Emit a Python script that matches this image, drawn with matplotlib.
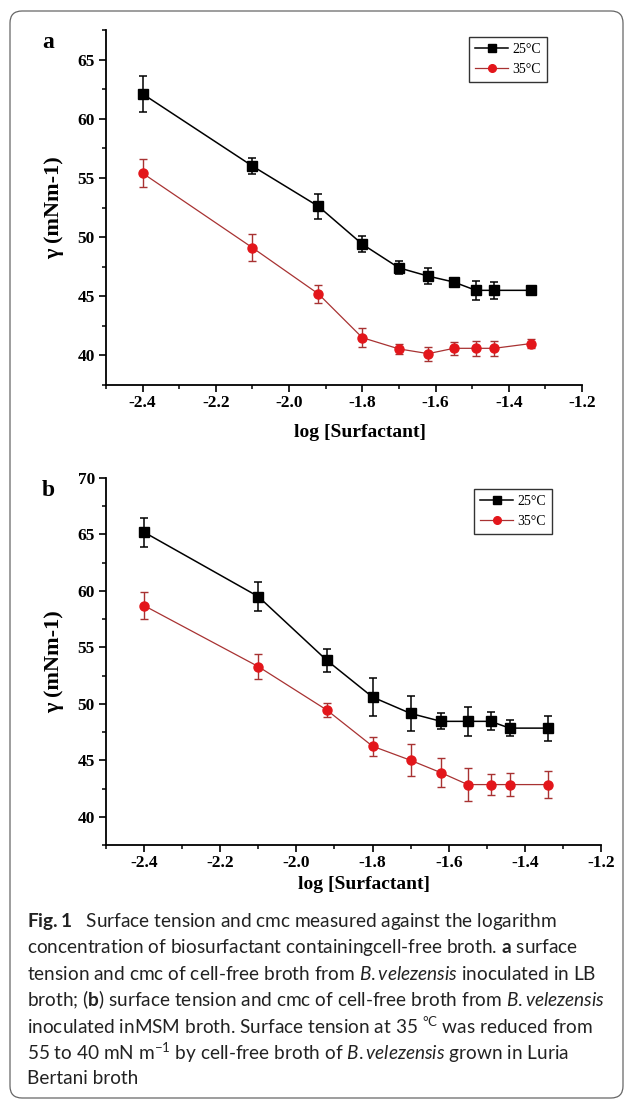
import matplotlib
matplotlib.use("Agg")
import matplotlib.pyplot as plt
from matplotlib.lines import Line2D
from matplotlib.patches import FancyBboxPatch
from matplotlib.ticker import MultipleLocator, FormatStrFormatter

plt.rcParams['font.family'] = ['Liberation Serif', 'DejaVu Serif']
plt.rcParams['mathtext.fontset'] = 'custom'
plt.rcParams['mathtext.rm'] = 'Lato'
plt.rcParams['mathtext.it'] = 'Lato:italic'
plt.rcParams['mathtext.bf'] = 'Lato:bold'

# log [Surfactant] values shared by both panels
log_conc = [-2.4, -2.1, -1.92, -1.8, -1.7, -1.62, -1.55, -1.49, -1.44, -1.34]

# panel a (LB broth)
a_25 = [62.1, 56.0, 52.6, 49.4, 47.4, 46.7, 46.2, 45.5, 45.5, 45.5]
a_25_err = [1.5, 0.7, 1.05, 0.65, 0.55, 0.7, 0.2, 0.8, 0.7, 0.35]
a_35 = [55.4, 49.1, 45.2, 41.5, 40.55, 40.15, 40.6, 40.6, 40.6, 41.0]
a_35_err = [1.2, 1.15, 0.75, 0.8, 0.4, 0.6, 0.55, 0.65, 0.65, 0.4]

# panel b (MSM broth)
b_25 = [65.2, 59.5, 53.85, 50.6, 49.15, 48.45, 48.45, 48.45, 47.85, 47.85]
b_25_err = [1.3, 1.25, 1.05, 1.65, 1.55, 0.7, 1.3, 0.8, 0.7, 1.1]
b_35 = [58.7, 53.3, 49.45, 46.25, 45.0, 43.9, 42.85, 42.85, 42.85, 42.85]
b_35_err = [1.2, 1.1, 0.6, 0.85, 1.4, 1.3, 1.45, 0.9, 1.05, 1.2]

labels = ['25°C', '35°C']

# mathtext puts a small space after '.', which gives "B. velezensis"
caption = [
    r"$\mathbf{Fig.1}$   Surface tension and cmc measured against the logarithm",
    r"concentration of biosurfactant containingcell-free broth. $\mathbf{a}$ surface",
    r"tension and cmc of cell-free broth from $\mathit{B.velezensis}$ inoculated in LB",
    r"broth; ($\mathbf{b}$) surface tension and cmc of cell-free broth from $\mathit{B.velezensis}$",
    r"inoculated inMSM broth. Surface tension at 35 $^{\mathrm{°C}}$ was reduced from",
    r"55 to 40 mN m$^{-1}$ by cell-free broth of $\mathit{B.velezensis}$ grown in Luria",
    r"Bertani broth",
]

BLACK = 'black'
RED_LINE = '#a83232'
RED_MARK = '#e3161b'

fig = plt.figure(figsize=(6.3, 11.03), dpi=100)

# page frame + caption, drawn in pixel coordinates
bg = fig.add_axes([0, 0, 1, 1])
bg.set_xlim(0, 630)
bg.set_ylim(1103, 0)
bg.axis('off')
bg.add_patch(FancyBboxPatch((10, 11), 613, 1087,
                            boxstyle="round,pad=0,rounding_size=12",
                            fc='none', ec='#666666', lw=0.9))
for i, line in enumerate(caption):
    bg.text(27, 921 + i * 26.3, line, family='Lato', fontsize=13.7,
            va='center', ha='left', color='#222222')


def panel(rect, y25, e25, y35, e35, ylim, letter, leg_anchor, xlab_pos):
    ax = fig.add_axes(rect)
    ax.errorbar(log_conc, y25, yerr=e25, color=BLACK, lw=1.1,
                marker='s', ms=6.5, capsize=3, elinewidth=1.1, capthick=1.1)
    ax.errorbar(log_conc, y35, yerr=e35, color=RED_LINE, lw=0.9,
                marker='o', ms=6.5, mfc=RED_MARK, mec=RED_MARK,
                ecolor=RED_LINE, capsize=3, elinewidth=1.0, capthick=1.0)
    ax.set_xlim(-2.5, -1.2)
    ax.set_ylim(*ylim)
    ax.xaxis.set_major_locator(MultipleLocator(0.2))
    ax.xaxis.set_minor_locator(MultipleLocator(0.1))
    ax.xaxis.set_major_formatter(FormatStrFormatter('%.1f'))
    ax.yaxis.set_major_locator(MultipleLocator(5))
    ax.yaxis.set_minor_locator(MultipleLocator(2.5))
    for s in ['top', 'right']:
        ax.spines[s].set_visible(False)
    for s in ['left', 'bottom']:
        ax.spines[s].set_linewidth(1.3)
    ax.tick_params(which='major', direction='out', length=5, width=1.2,
                   labelsize=12.5)
    ax.tick_params(axis='x', which='major', pad=2.5)
    ax.tick_params(axis='y', which='major', pad=3)
    ax.tick_params(which='minor', direction='out', length=3, width=1.1)
    for t in ax.get_xticklabels() + ax.get_yticklabels():
        t.set_fontweight('bold')
    ax.set_xlabel('log [Surfactant]', fontsize=14, fontweight='bold')
    ax.xaxis.set_label_coords(*xlab_pos)
    ax.set_ylabel('γ (mNm-1)', fontsize=16, fontweight='bold', labelpad=10)
    handles = [
        Line2D([], [], color=BLACK, lw=1.1, marker='s', ms=5.5),
        Line2D([], [], color=RED_LINE, lw=0.9, marker='o', ms=5.5,
               mfc=RED_MARK, mec=RED_MARK),
    ]
    leg = ax.legend(handles, labels, loc='upper left', bbox_to_anchor=leg_anchor,
                    fontsize=10, frameon=True, fancybox=False, edgecolor='black',
                    handlelength=2.4, borderpad=0.45, labelspacing=0.45,
                    handletextpad=0.3, borderaxespad=0)
    leg.get_frame().set_linewidth(1.0)
    fig.text(rect[0] - 64 / 630, rect[1] + rect[3] - 12 / 1103, letter,
             fontsize=17, fontweight='bold', va='center', ha='left')
    return ax


panel([106 / 630, 1 - 385 / 1103, 476 / 630, 355 / 1103],
      a_25, a_25_err, a_35, a_35_err, (37.5, 67.5), 'a', (0.762, 0.98),
      (0.534, -0.11))
panel([106 / 630, 1 - 845 / 1103, 495 / 630, 367 / 1103],
      b_25, b_25_err, b_35, b_35_err, (37.5, 70), 'b', (0.743, 0.97),
      (0.522, -0.085))

fig.savefig('out.png', dpi=100)
